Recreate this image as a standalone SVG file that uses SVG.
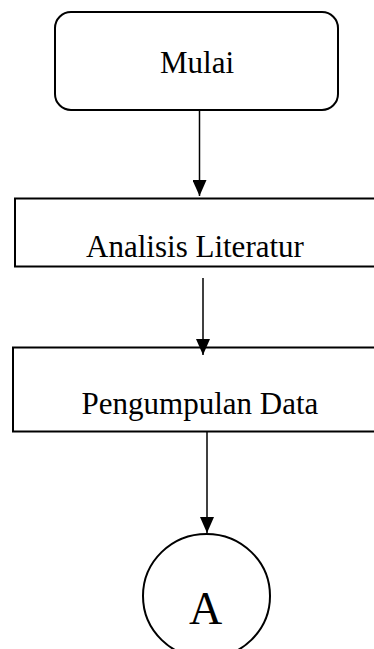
<svg xmlns="http://www.w3.org/2000/svg" width="374" height="649" viewBox="0 0 374 649">
<style>
.box{fill:#fff;stroke:#000;stroke-width:2}
.lbl{font-family:"Liberation Serif","Times New Roman",serif;font-size:31px;fill:#000;text-anchor:middle}
.con{stroke:#000;stroke-width:1.5;fill:none}
</style>
<defs>
<marker id="ah" viewBox="0 0 16 14" refX="16" refY="7" markerWidth="16" markerHeight="14" markerUnits="userSpaceOnUse" orient="auto">
<path d="M0,0 L16,7 L0,14 Z" fill="#000"/>
</marker>
</defs>
<g id="mulai">
<rect class="box" x="55" y="12" width="283" height="98" rx="16" ry="16"/>
<text class="lbl" x="197" y="73">Mulai</text>
</g>
<g id="analisis">
<rect class="box" x="15" y="198.5" width="370" height="68"/>
<text class="lbl" x="195" y="257">Analisis Literatur</text>
</g>
<g id="pengumpulan">
<rect class="box" x="13" y="347.5" width="372" height="84"/>
<text class="lbl" x="200" y="414">Pengumpulan Data</text>
</g>
<g id="a">
<ellipse class="box" cx="206.5" cy="596" rx="63.5" ry="62"/>
<text class="lbl" x="205.5" y="624" style="font-size:46px">A</text>
</g>
<g id="connectors">
<line class="con" x1="199.5" y1="111" x2="199.5" y2="196" marker-end="url(#ah)"/>
<line class="con" x1="203" y1="278" x2="203" y2="355" marker-end="url(#ah)"/>
<line class="con" x1="207" y1="432" x2="207" y2="533" marker-end="url(#ah)"/>
</g>
</svg>
